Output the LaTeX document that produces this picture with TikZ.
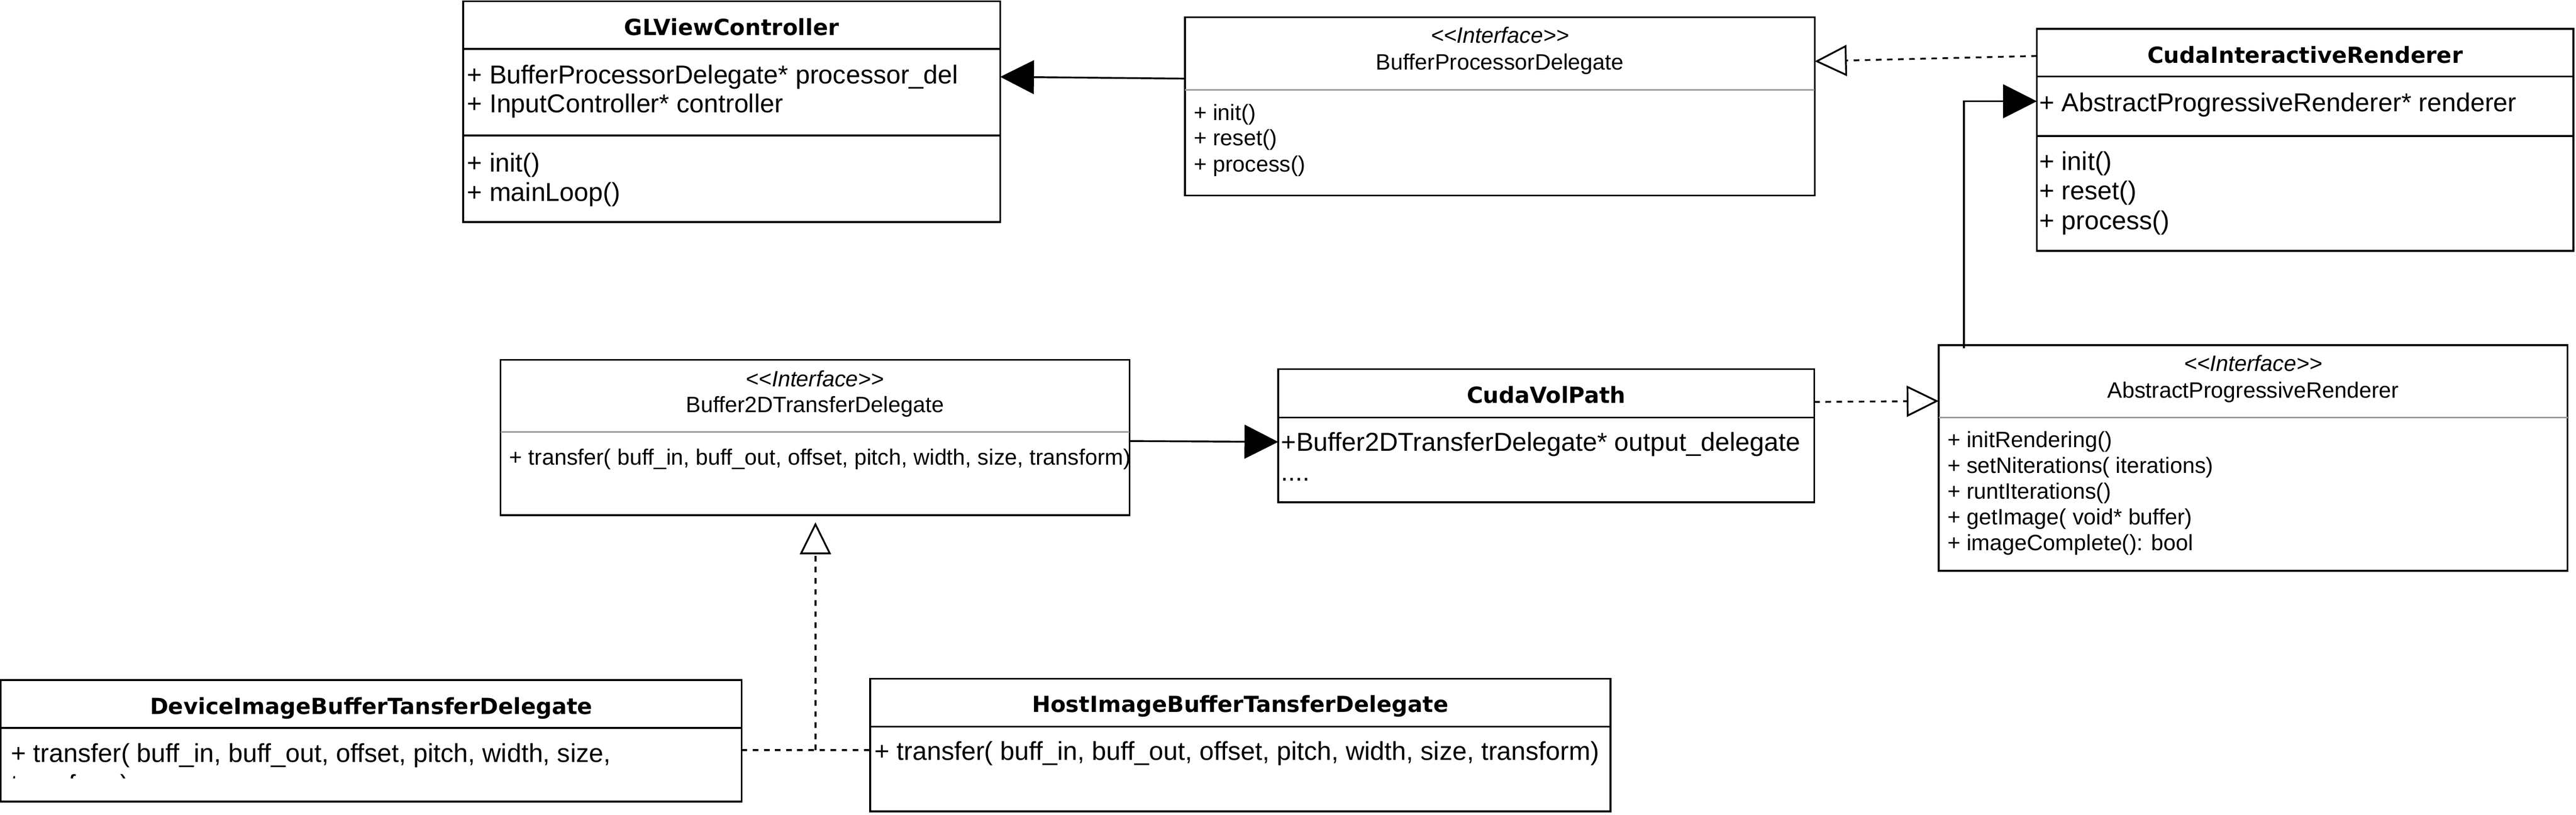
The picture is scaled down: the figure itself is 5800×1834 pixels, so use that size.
\documentclass[tikz,border=0pt]{standalone}
\usepackage{fontspec}
\setmainfont{Liberation Sans}
\newfontfamily\titlefont{DejaVu Sans}
\usetikzlibrary{arrows.meta,calc}
\newcommand{\stereo}{\textless\kern0pt\textless\kern0pt Interface\kern0pt\textgreater\kern0pt\textgreater}
\begin{document}
\begin{tikzpicture}[x=0.25pt,y=-0.25pt,
  box/.style={draw,line width=1pt,rectangle,inner sep=0pt,outer sep=0pt,anchor=north west},
  sep/.style={line width=1pt},
  gsep/.style={line width=0.85pt,draw=black!40},
  ttl/.style={anchor=base,inner sep=0pt,font=\titlefont\bfseries\fontsize{12.5pt}{15pt}\selectfont},
  ster/.style={anchor=base,inner sep=0pt,font=\fontsize{12.5pt}{15pt}\selectfont\itshape},
  iname/.style={anchor=base,inner sep=0pt,font=\fontsize{12.5pt}{15pt}\selectfont},
  mem/.style={anchor=base west,inner sep=0pt,font=\fontsize{12.5pt}{15pt}\selectfont},
  bigmem/.style={anchor=base west,inner sep=0pt,font=\fontsize{14.58pt}{17.5pt}\selectfont},
  assoc/.style={line width=1pt,-{Triangle[length=19pt,width=19pt]}},
  realiz/.style={line width=1pt,dash pattern=on 3.125pt off 3.125pt,-{Triangle[open,length=18pt,width=17.5pt,fill=white]}},
  dotline/.style={line width=1pt,dash pattern=on 3.125pt off 3.125pt},
]
\useasboundingbox (0,0) rectangle (5800,1834);
\fill[white] (0,0) rectangle (5800,1834);

% ---------- GLViewController ----------
\node[box,minimum width=302.25pt,minimum height=124.25pt] (gl) at (1043,3) {};
\draw[sep] ($(gl.north west)+(0,107)$) -- ($(gl.north east)+(0,107)$);
\draw[sep] ($(gl.north west)+(0,302)$) -- ($(gl.north east)+(0,302)$);
\node[ttl] (glT) at ($(gl.north)+(0,77)$) {GLViewController};
\node[bigmem] (glA1) at ($(gl.north west)+(8,185)$) {+ BufferProcessorDelegate* processor\_del};
\node[bigmem] (glA2) at ($(gl.north west)+(8,251)$) {+ InputController* controller};
\node[bigmem] (glM1) at ($(gl.north west)+(8,384)$) {+ init()};
\node[bigmem] (glM2) at ($(gl.north west)+(8,450)$) {+ mainLoop()};

% ---------- BufferProcessorDelegate ----------
\node[box,minimum width=354.5pt,minimum height=100.25pt] (bpd) at (2668,39) {};
\draw[gsep] ($(bpd.north west)+(0,163)$) -- ($(bpd.north east)+(0,163)$);
\node[ster] (bpdS) at ($(bpd.north)+(0,58)$) {\stereo};
\node[iname] (bpdN) at ($(bpd.north)+(0,118)$) {BufferProcessorDelegate};
\node[mem] (bpdM1) at ($(bpd.north west)+(19,232)$) {+ init()};
\node[mem] (bpdM2) at ($(bpd.north west)+(19,289)$) {+ reset()};
\node[mem] (bpdM3) at ($(bpd.north west)+(19,348)$) {+ process()};

% ---------- CudaInteractiveRenderer ----------
\node[box,minimum width=302pt,minimum height=125pt] (cir) at (4586,65) {};
\draw[sep] ($(cir.north west)+(0,107)$) -- ($(cir.north east)+(0,107)$);
\draw[sep] ($(cir.north west)+(0,241)$) -- ($(cir.north east)+(0,241)$);
\node[ttl] (cirT) at ($(cir.north)+(0,77)$) {CudaInteractiveRenderer};
\node[bigmem] (cirA1) at ($(cir.north west)+(5,186)$) {+ AbstractProgressiveRenderer* renderer};
\node[bigmem] (cirM1) at ($(cir.north west)+(5,318)$) {+ init()};
\node[bigmem] (cirM2) at ($(cir.north west)+(5,385)$) {+ reset()};
\node[bigmem] (cirM3) at ($(cir.north west)+(5,452)$) {+ process()};

% ---------- Buffer2DTransferDelegate ----------
\node[box,minimum width=354pt,minimum height=87.5pt] (b2d) at (1127,810) {};
\draw[gsep] ($(b2d.north west)+(0,163)$) -- ($(b2d.north east)+(0,163)$);
\node[ster] (b2dS) at ($(b2d.north)+(0,60)$) {\stereo};
\node[iname] (b2dN) at ($(b2d.north)+(0,118)$) {Buffer2DTransferDelegate};
\node[mem] (b2dM1) at ($(b2d.north west)+(19,237)$) {+ transfer( buff\_in, buff\_out, offset, pitch, width, size, transform)};

% ---------- CudaVolPath ----------
\node[box,minimum width=301.75pt,minimum height=75pt] (cvp) at (2878,831) {};
\draw[sep] ($(cvp.north west)+(0,109)$) -- ($(cvp.north east)+(0,109)$);
\node[ttl] (cvpT) at ($(cvp.north)+(0,77)$) {CudaVolPath};
\node[bigmem] (cvpA1) at ($(cvp.north west)+(6,184)$) {+Buffer2DTransferDelegate* output\_delegate};
\node[bigmem] (cvpA2) at ($(cvp.north west)+(6,252)$) {....};

% ---------- AbstractProgressiveRenderer ----------
\node[box,minimum width=354pt,minimum height=127pt] (apr) at (4365,777) {};
\draw[gsep] ($(apr.north west)+(0,163)$) -- ($(apr.north east)+(0,163)$);
\node[ster] (aprS) at ($(apr.north)+(0,59)$) {\stereo};
\node[iname] (aprN) at ($(apr.north)+(0,119)$) {AbstractProgressiveRenderer};
\node[mem] (aprM1) at ($(apr.north west)+(19,231)$) {+ initRendering()};
\node[mem] (aprM2) at ($(apr.north west)+(19,289)$) {+ setNiterations( iterations)};
\node[mem] (aprM3) at ($(apr.north west)+(19,346)$) {+ runtIterations()};
\node[mem] (aprM4) at ($(apr.north west)+(19,404)$) {+ getImage( void* buffer)};
\node[mem] (aprM5) at ($(apr.north west)+(19,463)$) {+ imageComplete(): bool};

% ---------- DeviceImageBufferTansferDelegate ----------
\node[box,minimum width=417pt,minimum height=68.5pt] (dev) at (2,1531) {};
\draw[sep] ($(dev.north west)+(0,108)$) -- ($(dev.north east)+(0,108)$);
\node[ttl] (devT) at ($(dev.north)+(0,77)$) {DeviceImageBufferTansferDelegate};
\node[bigmem] (devM1) at ($(dev.north west)+(22,185)$) {+ transfer( buff\_in, buff\_out, offset, pitch, width, size,};
\begin{scope}
  \clip ($(dev.north west)+(0,112)$) rectangle ($(dev.north east)+(0,221)$);
  \node[bigmem] (devM2) at ($(dev.north west)+(22,255)$) {transform)};
\end{scope}

% ---------- HostImageBufferTansferDelegate ----------
\node[box,minimum width=416.75pt,minimum height=74.75pt] (host) at (1959,1528) {};
\draw[sep] ($(host.north west)+(0,108)$) -- ($(host.north east)+(0,108)$);
\node[ttl] (hostT) at ($(host.north)+(0,76)$) {HostImageBufferTansferDelegate};
\node[bigmem] (hostM1) at ($(host.north west)+(9,183)$) {+ transfer( buff\_in, buff\_out, offset, pitch, width, size, transform)};

% ---------- connectors ----------
\draw[assoc] ($(bpd.north west)+(0,138)$) -- ($(gl.north east)+(0,170)$);
\draw[realiz] ($(cir.north west)+(0,61)$) -- ($(bpd.north east)+(0,99)$);
\draw[realiz] ($(cvp.north east)+(0,74)$) -- ($(apr.north west)+(0,126)$);
\draw[assoc] ($(apr.north west)+(57,7)$) |- ($(cir.north west)+(0,163)$);
\draw[assoc] ($(b2d.north east)+(0,183)$) -- ($(cvp.north west)+(0,164)$);
\coordinate (jn) at ($(b2d.south west)+(709,529)$);
\draw[dotline] ($(dev.north east)+(0,158)$) -- ($(host.north west)+(0,161)$);
\draw[realiz] (jn) -- ($(b2d.south west)+(709,16)$);
\end{tikzpicture}
\end{document}
